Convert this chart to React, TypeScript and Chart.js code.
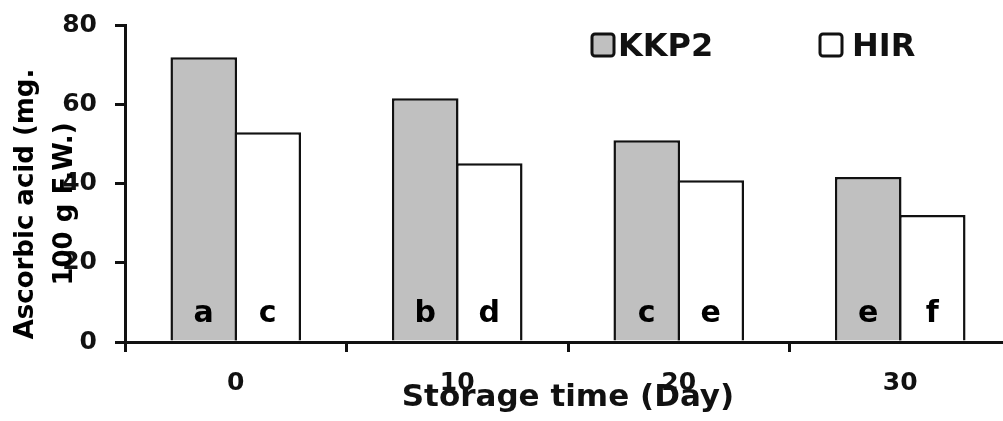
import React, { useEffect, useRef } from 'react';
import { Chart, registerables } from 'chart.js';

Chart.register(...registerables);

const categories = ['0', '10', '20', '30'];
const seriesNames = ['KKP2', 'HIR'];
const kkp2Values = [72, 61.6, 51, 41.7];
const hirValues = [53, 45.2, 40.9, 32.1];
const kkp2Letters = ['a', 'b', 'c', 'e'];
const hirLetters = ['c', 'd', 'e', 'f'];
const yTicks = [0, 20, 40, 60, 80];
const yTitleLines = ['Ascorbic acid (mg.', '100 g F.W.)'];
const xTitle = 'Storage time (Day)';

const FONT = '"DejaVu Sans", sans-serif';
const GRAY = '#c0c0c0';

const annotatePlugin = {
  id: 'annotate',
  afterDatasetsDraw(chart: any) {
    const ctx = chart.ctx;
    const letters = [kkp2Letters, hirLetters];
    const y0 = chart.scales.y.getPixelForValue(0);
    ctx.save();
    ctx.font = `bold 30px ${FONT}`;
    ctx.fillStyle = '#000';
    ctx.textAlign = 'center';
    ctx.textBaseline = 'alphabetic';
    chart.data.datasets.forEach((_ds: any, i: number) => {
      chart.getDatasetMeta(i).data.forEach((el: any, j: number) => {
        ctx.fillText(letters[i][j], el.x, y0 - 20);
      });
    });
    ctx.restore();
  },
  afterDraw(chart: any) {
    const ctx = chart.ctx;
    // y-axis title (two rotated lines)
    ctx.save();
    ctx.font = `bold 26px ${FONT}`;
    ctx.fillStyle = '#000';
    ctx.textAlign = 'center';
    ctx.textBaseline = 'alphabetic';
    const baselines = [33, 72];
    yTitleLines.forEach((line, i) => {
      ctx.save();
      ctx.translate(baselines[i], 204);
      ctx.rotate(-Math.PI / 2);
      ctx.fillText(line, 0, 0);
      ctx.restore();
    });
    ctx.restore();

    // legend
    const boxX = [592, 820];
    const textX = [618, 852];
    ctx.save();
    chart.data.datasets.forEach((ds: any, i: number) => {
      ctx.beginPath();
      ctx.lineWidth = 3;
      ctx.strokeStyle = '#111';
      ctx.fillStyle = ds.backgroundColor;
      if ((ctx as any).roundRect) {
        (ctx as any).roundRect(boxX[i], 34, 22, 22, 3);
      } else {
        ctx.rect(boxX[i], 34, 22, 22);
      }
      ctx.fill();
      ctx.stroke();
      ctx.font = `bold 32px ${FONT}`;
      ctx.fillStyle = '#111';
      ctx.textAlign = 'left';
      ctx.textBaseline = 'alphabetic';
      ctx.fillText(ds.label, textX[i], 56);
    });
    ctx.restore();
  },
};

export default function App() {
  const canvasRef = useRef<HTMLCanvasElement | null>(null);

  useEffect(() => {
    if (!canvasRef.current) return;
    const chart = new Chart(canvasRef.current, {
      type: 'bar',
      data: {
        labels: categories,
        datasets: [
          {
            label: seriesNames[0],
            data: kkp2Values,
            backgroundColor: GRAY,
            borderColor: '#111',
            borderWidth: 2.5,
            categoryPercentage: 0.578,
            barPercentage: 1.04,
          },
          {
            label: seriesNames[1],
            data: hirValues,
            backgroundColor: '#ffffff',
            borderColor: '#111',
            borderWidth: 2.5,
            categoryPercentage: 0.578,
            barPercentage: 1.04,
          },
        ],
      },
      options: {
        responsive: false,
        animation: false,
        devicePixelRatio: 1,
        layout: { padding: { top: 25, left: 0, right: 0, bottom: 0 } },
        plugins: {
          legend: { display: false },
          tooltip: { enabled: false },
        },
        scales: {
          x: {
            offset: true,
            border: { display: true, color: '#111', width: 3 },
            grid: {
              display: true,
              offset: true,
              drawOnChartArea: false,
              drawTicks: true,
              tickLength: 10,
              lineWidth: 3,
              color: '#111',
            },
            ticks: {
              color: '#111',
              padding: 16,
              font: { family: FONT, size: 25, weight: 'bold', lineHeight: 1.2 },
            },
            title: {
              display: true,
              text: xTitle,
              color: '#111',
              padding: { top: 0, bottom: 4 },
              font: { family: FONT, size: 31, weight: 'bold', lineHeight: 1.2 },
            },
            afterFit: (scale: any) => {
              scale.height = 79;
            },
          },
          y: {
            min: 0,
            max: 80,
            border: { display: true, color: '#111', width: 3 },
            grid: {
              display: true,
              drawOnChartArea: false,
              drawTicks: true,
              tickLength: 10,
              lineWidth: 3,
              color: '#111',
            },
            afterBuildTicks: (scale: any) => {
              scale.ticks = yTicks.map((v) => ({ value: v }));
            },
            ticks: {
              color: '#111',
              padding: 18,
              font: { family: FONT, size: 25, weight: 'bold', lineHeight: 0.6 },
            },
            afterFit: (scale: any) => {
              scale.width = 125;
            },
          },
        },
      } as any,
      plugins: [annotatePlugin],
    });
    return () => chart.destroy();
  }, []);

  return (
    <div
      style={{
        position: 'absolute',
        left: 0,
        top: 0,
        width: 1003,
        height: 421,
        overflow: 'hidden',
        background: '#fff',
      }}
    >
      <canvas
        ref={canvasRef}
        width={1011}
        height={421}
        style={{ width: 1011, height: 421, display: 'block' }}
      />
    </div>
  );
}
